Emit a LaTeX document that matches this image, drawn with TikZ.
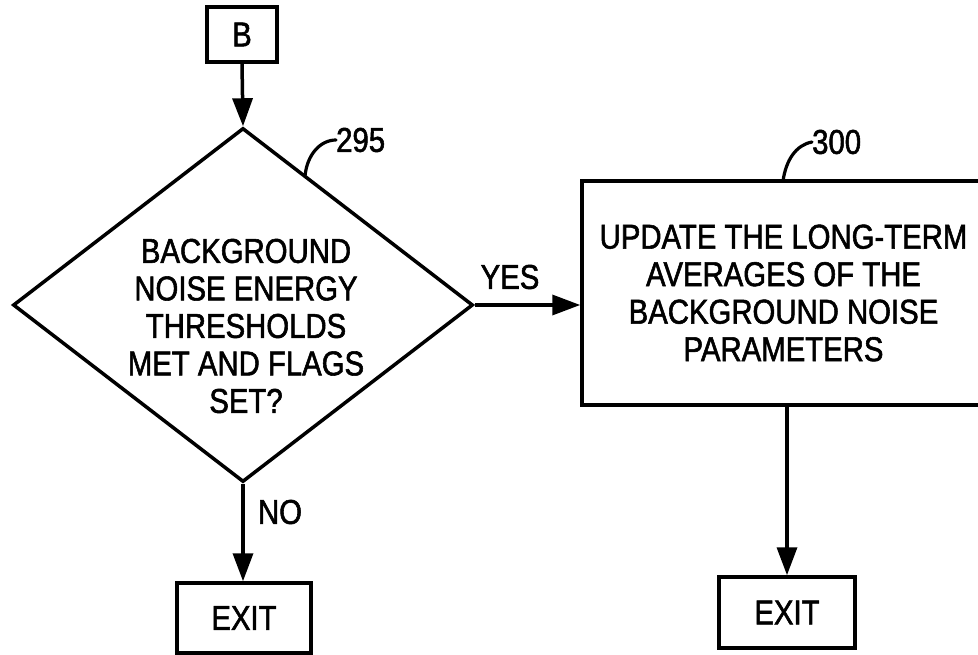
\documentclass[tikz,border=0pt]{standalone}
\usepackage{fontspec}
\setmainfont{Liberation Sans}[FakeStretch=0.85,FakeBold=1.6]
\usetikzlibrary{shapes.geometric,arrows.meta}
\begin{document}
\begin{tikzpicture}[x=1pt,y=-1pt,
  every node/.style={font=\fontsize{34.5}{37.5}\selectfont},
  boxline/.style={draw, line width=3.5pt, inner sep=0pt},
  arr/.style={line width=3.5pt, -{Triangle[length=28pt,width=20pt]}},
  leader/.style={line width=3.2pt, line cap=round}]
\useasboundingbox (0,0) rectangle (978,655);
% nodes
\node[boxline, minimum width=70pt, minimum height=55pt] (B) at (242,34.5) {B};
\node[boxline, diamond, minimum width=460pt, minimum height=354pt] (D) at (243,305) {};
\node[align=center, inner sep=0pt] (Dtext) at (246,326) {BACKGROUND\\NOISE ENERGY\\THRESHOLDS\\MET AND FLAGS\\SET?};
\node[boxline, minimum width=403pt, minimum height=224pt, align=center] (U) at (783.5,293) {UPDATE THE LONG-TERM\\AVERAGES OF THE\\BACKGROUND NOISE\\PARAMETERS};
\node[boxline, minimum width=134pt, minimum height=70pt] (E1) at (244,618) {EXIT};
\node[boxline, minimum width=136pt, minimum height=71pt] (E2) at (787,612.5) {EXIT};
\node[inner sep=0pt] (yes) at (510,277) {YES};
\node[inner sep=0pt] (no) at (280,512) {NO};
\node[inner sep=0pt, anchor=west] (l295) at (336,140) {295};
\node[inner sep=0pt, anchor=west] (l300) at (812,142) {300};
% connectors
\draw[arr] (B.south) -- (D.north);
\draw[arr] (D.east) -- (D.east -| U.west);
\draw[arr] (D.south) -- (E1.north -| D.south);
\draw[arr] (U.south -| E2.north) -- (E2.north);
% leaders
\coordinate (c295) at (305,176);
\coordinate (c300) at (783,181);
\draw[leader] (l295.west) .. controls (320,140) and (307,155) .. (c295);
\draw[leader] (l300.west) .. controls (796,145) and (786,160) .. (c300);
\end{tikzpicture}
\end{document}
